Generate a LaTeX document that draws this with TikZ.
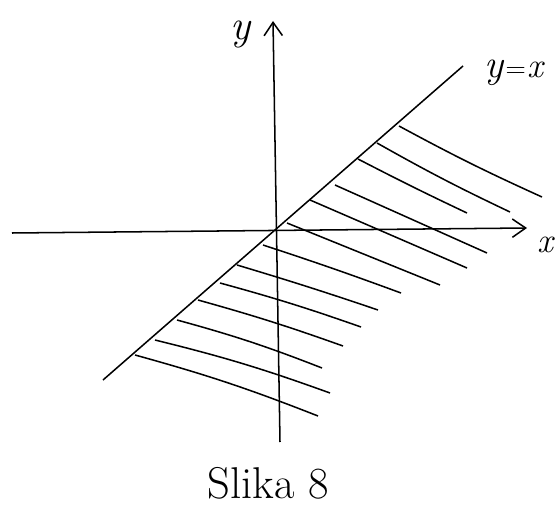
\documentclass[tikz,border=0pt]{standalone}
\usepackage{fontspec}
\usepackage{tikz}
\usetikzlibrary{arrows.meta}

\begin{document}
\begin{tikzpicture}[x=0.03cm,y=-0.03cm,line width=1.3pt]
\useasboundingbox (0,0) rectangle (557,509);
\draw[-{Straight Barb[length=4mm,width=5.5mm]}] (12,233) to (527,228);
\draw[-{Straight Barb[length=4mm,width=5.5mm]}] (280,442) to (273,21);
\draw (103,380) to (463,66);
\foreach \xa/\ya/\xb/\yb/\bnd in {399/126/542/197/-2, 377/143/510/212/-2, 358/159/467/213/-1,
  335/185/487/253/0, 310/200/467/268/0, 287/223/440/285/0, 263/245/401/293/1,
  237/265/378/310/1, 220/283/361/327/2, 198/300/343/346/2, 177/320/322/368/3,
  155/340/330/393/3, 135/355/318/416/3}
  \draw (\xa,\ya) to[bend left=\bnd] (\xb,\yb);
\node[anchor=base] (ylab) at (241,40) {\fontsize{36}{38}\selectfont\itshape y};
\node[anchor=base] (xlab) at (545,252) {\fontsize{30}{32}\selectfont\itshape x};
\node[anchor=base west,inner sep=0pt] (eq) at (484,78) {{\fontsize{34}{36}\selectfont\itshape y}\,{\fontsize{24}{26}\selectfont=}\,{\fontsize{30}{32}\selectfont\itshape x}};
\node[anchor=base,inner sep=0pt] (cap) at (268,498) {\fontsize{38}{40}\selectfont Slika 8};
\end{tikzpicture}
\end{document}
